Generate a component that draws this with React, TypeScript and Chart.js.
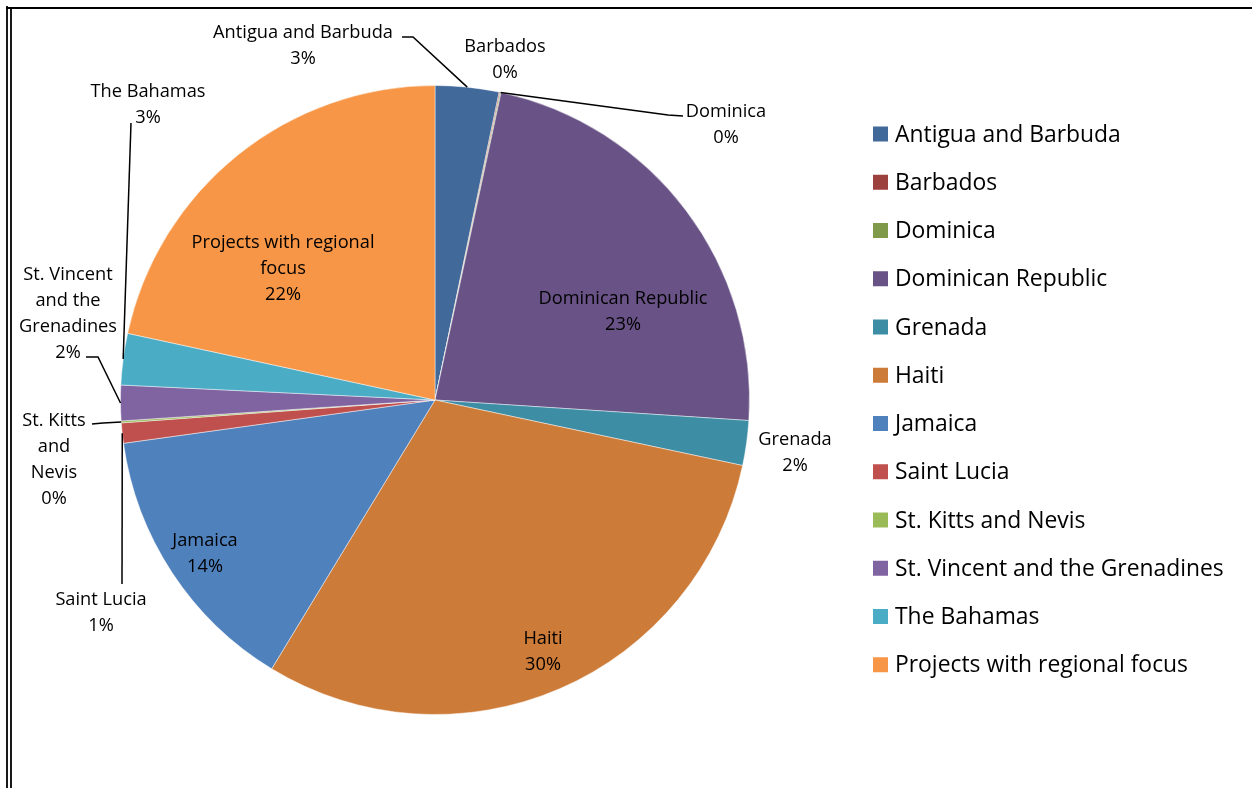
import React, { useEffect, useRef } from 'react';
import { Chart, registerables } from 'chart.js';

Chart.register(...registerables);

// ---- data ----
const categories = [
  'Antigua and Barbuda',
  'Barbados',
  'Dominica',
  'Dominican Republic',
  'Grenada',
  'Haiti',
  'Jamaica',
  'Saint Lucia',
  'St. Kitts and Nevis',
  'St. Vincent and the Grenadines',
  'The Bahamas',
  'Projects with regional focus',
];
const shares = [3.27, 0.05, 0.05, 22.67, 2.3, 30.35, 14.11, 1.04, 0.1, 1.82, 2.64, 21.6];
const labelText = [
  ['Antigua and Barbuda'],
  ['Barbados'],
  ['Dominica'],
  ['Dominican Republic'],
  ['Grenada'],
  ['Haiti'],
  ['Jamaica'],
  ['Saint Lucia'],
  ['St. Kitts', 'and', 'Nevis'],
  ['St. Vincent', 'and the', 'Grenadines'],
  ['The Bahamas'],
  ['Projects with regional', 'focus'],
];

// ---- styles / layout ----
const sliceColors = [
  '#416A9B', '#9D413E', '#7F9A48', '#695286', '#3D8DA5', '#CD7B38',
  '#4F81BD', '#C0504D', '#9BBB59', '#8064A2', '#4BACC6', '#F79646',
];
// label centre offsets from the pie centre, optional leader start/elbow offsets
type Lay = { dx: number; dy: number; lead?: number[][] };
const labelLayout: Lay[] = [
  { dx: -132, dy: -369, lead: [[-33, -363], [-22, -363]] },
  { dx: 70, dy: -355 },
  { dx: 291, dy: -290, lead: [[248, -284], [233, -285]] },
  { dx: 188, dy: -103 },
  { dx: 360, dy: 38 },
  { dx: 108, dy: 237 },
  { dx: -230, dy: 139 },
  { dx: -334, dy: 198, lead: [[-313, 184]] },
  { dx: -381, dy: 19, lead: [[-343, 24], [-332, 23]] },
  { dx: -367, dy: -127, lead: [[-349, -43], [-337, -43]] },
  { dx: -287, dy: -310, lead: [[-304, -277]] },
  { dx: -152, dy: -159 },
];
const FONT = '"Open Sans", "Noto Sans", sans-serif';
const LINE_H = 26;
const LABEL_SHIFT = 1.5;

function fitSize(ctx: CanvasRenderingContext2D, text: string, width: number) {
  ctx.font = `100px ${FONT}`;
  const w = ctx.measureText(text).width;
  return (100 * width) / w;
}

const overlayPlugin = {
  id: 'overlay',
  beforeDraw(chart: any) {
    const ctx: CanvasRenderingContext2D = chart.ctx;
    ctx.save();
    ctx.strokeStyle = '#000';
    ctx.lineWidth = 1.8;
    ctx.beginPath();
    ctx.moveTo(7, 6);
    ctx.lineTo(7, 788);
    ctx.moveTo(11, 9);
    ctx.lineTo(11, 788);
    ctx.stroke();
    ctx.lineWidth = 2.2;
    ctx.beginPath();
    ctx.moveTo(6, 8);
    ctx.lineTo(1252, 8);
    ctx.stroke();
    ctx.restore();
  },
  afterDraw(chart: any) {
    const ctx: CanvasRenderingContext2D = chart.ctx;
    const meta = chart.getDatasetMeta(0);
    const data: number[] = chart.data.datasets[0].data;
    const total = data.reduce((a, b) => a + b, 0);
    const first = meta.data[0];
    const cx = first.x;
    const cy = first.y;
    ctx.save();
    // data labels
    const labelSize = fitSize(ctx, 'Antigua and Barbuda', 180);
    ctx.font = `${labelSize}px ${FONT}`;
    ctx.fillStyle = '#000';
    ctx.textAlign = 'center';
    ctx.textBaseline = 'middle';
    labelText.forEach((lines, i) => {
      const lay = labelLayout[i];
      const all = [...lines, Math.round((data[i] / total) * 100) + '%'];
      const x = cx + lay.dx;
      all.forEach((t, k) => ctx.fillText(t, x, cy + lay.dy + LABEL_SHIFT + k * LINE_H));
      if (lay.lead) {
        const arc = meta.data[i];
        const p = arc.getProps(['x', 'y', 'startAngle', 'endAngle', 'outerRadius'], true);
        const a = (p.startAngle + p.endAngle) / 2;
        const ex = p.x + Math.cos(a) * p.outerRadius;
        const ey = p.y + Math.sin(a) * p.outerRadius;
        ctx.strokeStyle = '#000';
        ctx.lineWidth = 1.5;
        ctx.beginPath();
        lay.lead.forEach(([lx, ly], k) => {
          if (k === 0) ctx.moveTo(cx + lx, cy + ly);
          else ctx.lineTo(cx + lx, cy + ly);
        });
        ctx.lineTo(ex, ey);
        ctx.stroke();
      }
    });
    // legend
    const legSize = fitSize(ctx, 'Antigua and Barbuda', 226);
    ctx.font = `${legSize}px ${FONT}`;
    ctx.textAlign = 'left';
    const lx = 873;
    const ly0 = 134;
    const step = 48.25;
    categories.forEach((c, i) => {
      const y = ly0 + i * step;
      ctx.fillStyle = sliceColors[i];
      ctx.fillRect(lx, y - 7.5, 15, 15);
      ctx.fillStyle = '#000';
      ctx.fillText(c, lx + 22, y + 1);
    });
    ctx.restore();
  },
};

export default function App() {
  const ref = useRef<HTMLCanvasElement | null>(null);
  useEffect(() => {
    if (!ref.current) return;
    const chart = new Chart(ref.current, {
      type: 'pie',
      data: {
        labels: categories,
        datasets: [
          {
            data: shares,
            backgroundColor: sliceColors,
            borderColor: 'rgba(255,255,255,0.45)',
            borderWidth: 1,
          },
        ],
      },
      options: {
        animation: false,
        responsive: true,
        maintainAspectRatio: false,
        layout: { padding: { left: 120, right: 502, top: 85, bottom: 73 } },
        plugins: { legend: { display: false }, tooltip: { enabled: false } },
      },
      plugins: [overlayPlugin],
    } as any);
    return () => chart.destroy();
  }, []);
  return (
    <div style={{ position: 'absolute', left: 0, top: 0, width: 1252, height: 788, background: '#fff' }}>
      <canvas ref={ref} />
    </div>
  );
}
